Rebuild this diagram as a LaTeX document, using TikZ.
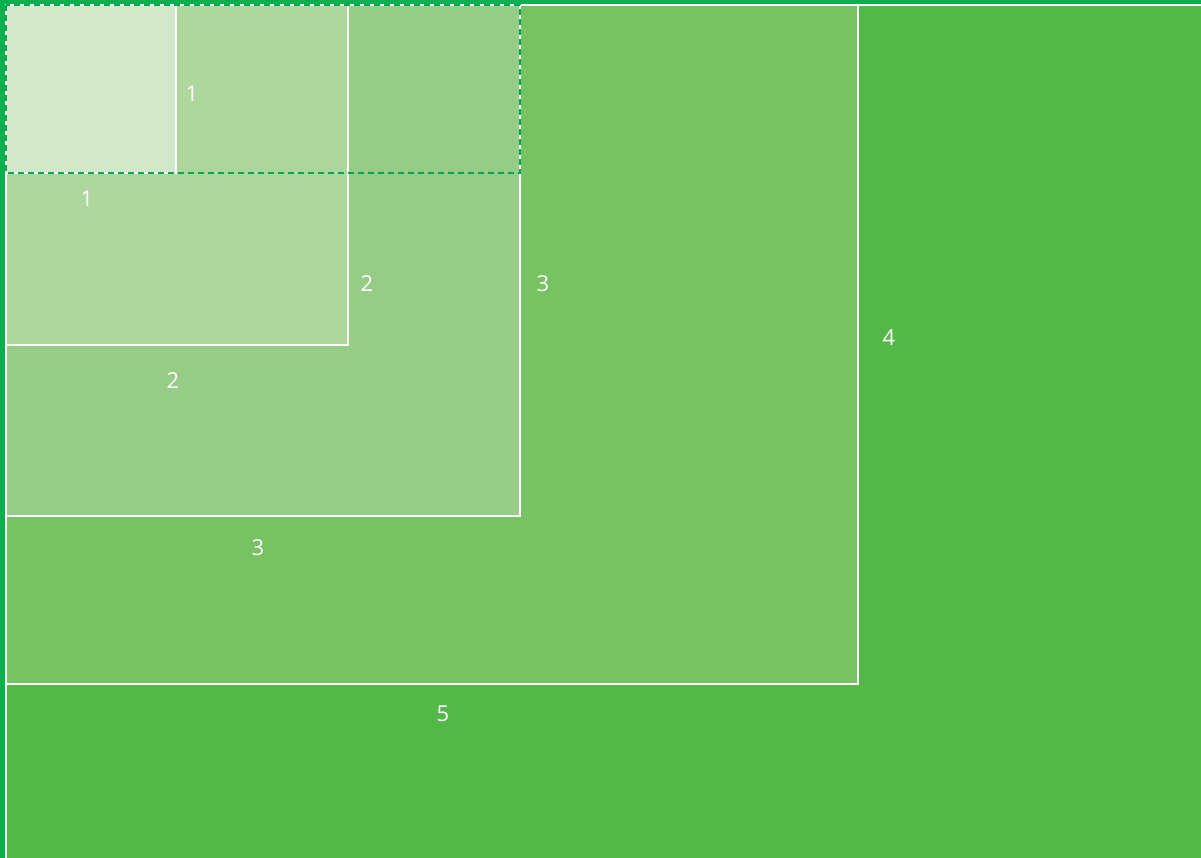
\documentclass[tikz,border=0pt]{standalone}
\usepackage{fontspec}
\setmainfont{Open Sans}
\definecolor{outer}{HTML}{0BAF4E}
\definecolor{cfive}{HTML}{54B848}
\definecolor{cfour}{HTML}{77C262}
\definecolor{cthree}{HTML}{96CC85}
\definecolor{ctwo}{HTML}{ADD79C}
\definecolor{cone}{HTML}{D3E8C8}
\definecolor{dashgreen}{HTML}{00A651}
\tikzset{
  box/.style={draw=white, line width=2pt},
  lbl/.style={text=white, font=\fontsize{22}{26}\selectfont, inner sep=0pt},
  dashbox/.style={draw=dashgreen, line width=2pt, dash pattern=on 6pt off 4pt}
}
\begin{document}
\begin{tikzpicture}[x=1pt,y=-1pt]
\useasboundingbox (0,0) rectangle (1201,858);
\fill[outer] (0,0) rectangle (1201,858);
\filldraw[fill=cfive, box] (6,5) rectangle (1210,870);
\filldraw[fill=cfour, box] (6,5) rectangle (858,684);
\filldraw[fill=cthree, box] (6,5) rectangle (520,516);
\filldraw[fill=ctwo, box] (6,5) rectangle (348,345);
\filldraw[fill=cone, box] (6,5) rectangle (176,173);
\draw[dashbox] (6,5) rectangle (520,173);
\node[lbl] (a1) at (192,94) {1};
\node[lbl] (b1) at (87,199) {1};
\node[lbl] (a2) at (367,284) {2};
\node[lbl] (b2) at (173,381) {2};
\node[lbl] (a3) at (543,284) {3};
\node[lbl] (b3) at (258,548) {3};
\node[lbl] (a4) at (889,338) {4};
\node[lbl] (b5) at (443,714) {5};
\end{tikzpicture}
\end{document}
